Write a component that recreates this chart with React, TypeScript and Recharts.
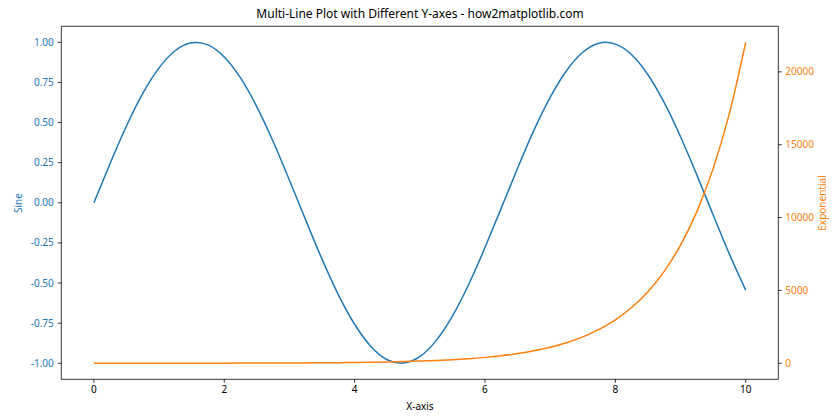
import React from 'react';
import { LineChart, Line, XAxis, YAxis, ReferenceLine } from 'recharts';

const xValues = [0, 0.25, 0.5, 0.75, 1, 1.25, 1.5, 1.75, 2, 2.25, 2.5, 2.75, 3, 3.25, 3.5, 3.75, 4, 4.25, 4.5, 4.75, 5, 5.25, 5.5, 5.75, 6, 6.25, 6.5, 6.75, 7, 7.25, 7.5, 7.75, 8, 8.25, 8.5, 8.75, 9, 9.25, 9.5, 9.75, 10];
const sineValues = [0, 0.247, 0.479, 0.682, 0.841, 0.949, 0.997, 0.984, 0.909, 0.778, 0.598, 0.382, 0.141, -0.108, -0.351, -0.572, -0.757, -0.895, -0.978, -0.999, -0.959, -0.859, -0.706, -0.509, -0.279, -0.033, 0.215, 0.451, 0.657, 0.823, 0.938, 0.995, 0.989, 0.923, 0.798, 0.624, 0.412, 0.174, -0.075, -0.32, -0.544];
const expValues = [1, 1.28, 1.65, 2.12, 2.72, 3.49, 4.48, 5.75, 7.39, 9.49, 12.18, 15.64, 20.09, 25.79, 33.12, 42.52, 54.6, 70.1, 90.0, 115.6, 148.4, 190.6, 244.7, 314.2, 403.4, 518.0, 665.1, 854.1, 1096.6, 1408.1, 1808.0, 2321.6, 2981.0, 3827.6, 4914.8, 6310.7, 8103.1, 10404.6, 13359.7, 17154.2, 22026.5];
const xTicks = [0, 2, 4, 6, 8, 10];
const sineTicks = [-1, -0.75, -0.5, -0.25, 0, 0.25, 0.5, 0.75, 1];
const expTicks = [0, 5000, 10000, 15000, 20000];

const data = xValues.map((x, i) => ({ x, sine: sineValues[i], exp: expValues[i] }));

const BLUE = '#1f77b4';
const ORANGE = '#ff7f0e';
const FONT = '"Noto Sans", "DejaVu Sans", sans-serif';

export default function App() {
  return (
    <div style={{ position: 'absolute', left: 0, top: 0, width: 840, height: 420, background: '#fff', fontFamily: FONT }}>
      <LineChart width={840} height={420} data={data} margin={{ top: 26.3, right: 0, left: 0, bottom: 0 }}>
        <XAxis
          dataKey="x"
          type="number"
          domain={[-0.5, 10.5]}
          ticks={xTicks}
          allowDataOverflow
          height={40.7}
          tickSize={3.5}
          tickMargin={3}
          stroke="#000"
          strokeWidth={0.8}
          tick={{ fill: '#000', fontSize: 10, fontFamily: FONT }}
        />
        <YAxis
          yAxisId="sin"
          domain={[-1.1, 1.1]}
          ticks={sineTicks}
          allowDataOverflow
          width={61.3}
          tickSize={3.5}
          tickMargin={4}
          stroke="#000"
          strokeWidth={0.8}
          tickFormatter={(v: number) => v.toFixed(2)}
          tick={{ fill: BLUE, fontSize: 10, fontFamily: FONT }}
        />
        <YAxis
          yAxisId="exp"
          orientation="right"
          domain={[-1101.3, 23127.8]}
          ticks={expTicks}
          allowDataOverflow
          width={61.7}
          tickSize={3.5}
          tickMargin={3.5}
          stroke="#000"
          strokeWidth={0.8}
          tick={{ fill: ORANGE, fontSize: 10, fontFamily: FONT }}
        />
        <ReferenceLine yAxisId="sin" y={1.1} stroke="#000" strokeWidth={0.8} ifOverflow="visible" />
        <Line yAxisId="sin" dataKey="sine" type="natural" stroke={BLUE} strokeWidth={1.5} dot={false} isAnimationActive={false} />
        <Line yAxisId="exp" dataKey="exp" type="monotone" stroke={ORANGE} strokeWidth={1.5} dot={false} isAnimationActive={false} />
      </LineChart>
      <div style={{ position: 'absolute', left: 0, top: 6, width: 840, textAlign: 'center', fontSize: 12, lineHeight: '16px', color: '#000' }}>
        Multi-Line Plot with Different Y-axes - how2matplotlib.com
      </div>
      <div style={{ position: 'absolute', left: 320, top: 399, width: 200, textAlign: 'center', fontSize: 10, lineHeight: '14px', color: '#000' }}>
        X-axis
      </div>
      <div style={{ position: 'absolute', left: 18, top: 203, width: 0, height: 0 }}>
        <div style={{ position: 'absolute', left: -100, top: -7, width: 200, textAlign: 'center', fontSize: 10, lineHeight: '14px', color: BLUE, transform: 'rotate(-90deg)' }}>
          Sine
        </div>
      </div>
      <div style={{ position: 'absolute', left: 822, top: 203, width: 0, height: 0 }}>
        <div style={{ position: 'absolute', left: -100, top: -7, width: 200, textAlign: 'center', fontSize: 10, lineHeight: '14px', color: ORANGE, transform: 'rotate(-90deg)' }}>
          Exponential
        </div>
      </div>
    </div>
  );
}
